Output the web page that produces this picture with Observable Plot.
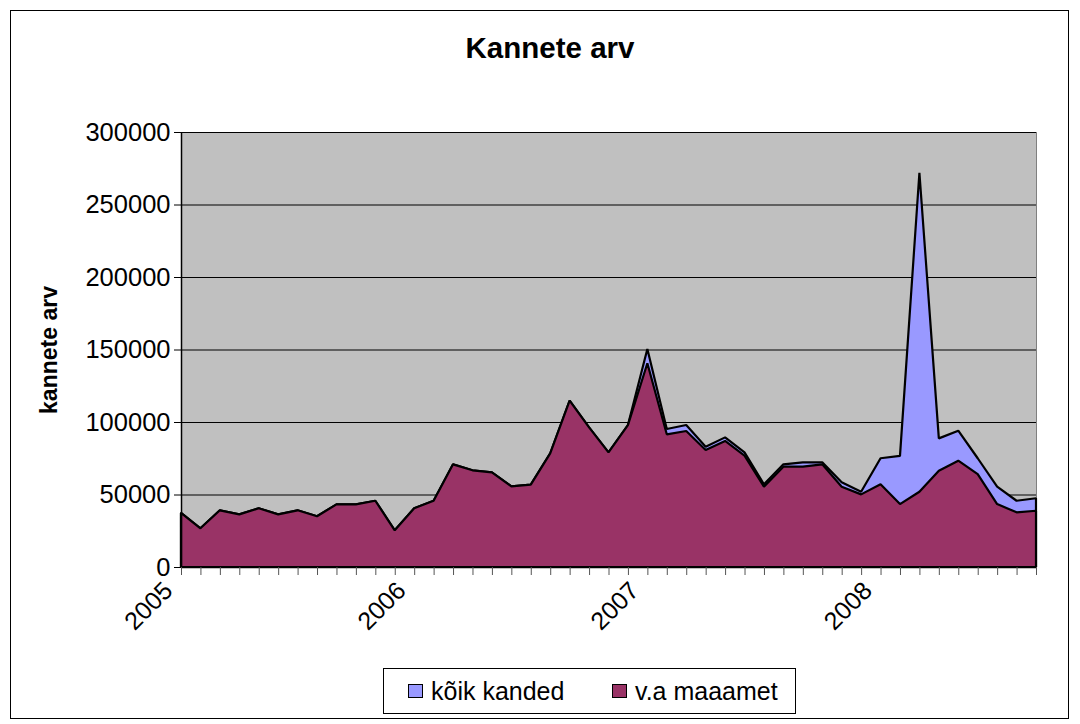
<!DOCTYPE html>
<html>
<head>
<meta charset="utf-8">
<script src="https://cdn.jsdelivr.net/npm/d3@7"></script>
<script src="https://cdn.jsdelivr.net/npm/@observablehq/plot@0.6"></script>
<style>
  body { margin: 0; background: #fff; font-family: "Liberation Sans", Arial, sans-serif; }
  #wrap { position: relative; width: 1080px; height: 724px; overflow: hidden; background: #fff; }
  #border { position: absolute; left: 10px; top: 10px; width: 1059px; height: 709px; border: 1px solid #000; box-sizing: border-box; pointer-events: none; }
  #title { height: 100px; box-sizing: border-box; padding-top: 31px; padding-left: 20px; text-align: center; font-size: 29.5px; line-height: 34px; font-weight: bold; color: #000; }
  #chart svg { display: block; }
  #legendRow { height: 64px; position: relative; }
  #legend { position: absolute; left: 383px; top: 8px; width: 413px; height: 46px; border: 1px solid #000; box-sizing: border-box; font-size: 25px; color: #000; }
  .item { position: absolute; top: 0; height: 44px; display: flex; align-items: center; }
  .sw { width: 15px; height: 14px; border: 1px solid #000; box-sizing: border-box; margin-right: 8px; }
</style>
</head>
<body>
<div id="wrap">
  <div id="title"></div>
  <div id="chart"></div>
  <div id="legendRow"><div id="legend"></div></div>
  <div id="border"></div>
</div>
<script>
// Categories: months Jan 2005 – Sep 2008
const months = [
  "2005-01","2005-02","2005-03","2005-04","2005-05","2005-06","2005-07","2005-08","2005-09","2005-10","2005-11","2005-12",
  "2006-01","2006-02","2006-03","2006-04","2006-05","2006-06","2006-07","2006-08","2006-09","2006-10","2006-11","2006-12",
  "2007-01","2007-02","2007-03","2007-04","2007-05","2007-06","2007-07","2007-08","2007-09","2007-10","2007-11","2007-12",
  "2008-01","2008-02","2008-03","2008-04","2008-05","2008-06","2008-07","2008-08","2008-09"
];
// Series: "kõik kanded" (all entries)
const koikKanded = [
  37400, 26700, 39100, 36300, 40500, 36300, 39100, 35000, 43200, 43200, 45700, 25300,
  40500, 45700, 70800, 66700, 65300, 55600, 56800, 78400, 114700, 96300, 79100, 97900,
  150300, 95200, 97900, 83000, 89400, 79100, 57000, 70800, 72200, 72200, 58400, 51900,
  75000, 76600, 271900, 88700, 94000, 75000, 55400, 45700, 47400
];
// Series: "v.a maaamet" (excluding Land Board)
const vaMaaamet = [
  37400, 26700, 39100, 36300, 40500, 36300, 39100, 35000, 43200, 43200, 45700, 25300,
  40500, 45700, 70800, 66700, 65300, 55600, 56800, 78400, 114700, 96300, 79100, 97900,
  140500, 91500, 93800, 80700, 86900, 76800, 55400, 69200, 69200, 70800, 55400, 50100,
  57000, 43400, 51900, 66400, 73300, 64100, 43400, 37700, 38800
];
const seriesNames = ["kõik kanded", "v.a maaamet"];
const seriesColors = ["#9999FF", "#993366"];
const yTicks = [0, 50000, 100000, 150000, 200000, 250000, 300000];
const yearLabels = ["2005", "2006", "2007", "2008"];
const titleText = "Kannete arv";
const yAxisTitle = "kannete arv";

const data = months.map((m, i) => ({i, month: m, koik: koikKanded[i], va: vaMaaamet[i]}));
const monthIdx = months.map((m, i) => i);
const yearIdx = months.map((m, i) => i).filter(i => months[i].endsWith("-01"));

document.getElementById("title").textContent = titleText;

const chart = Plot.plot({
  width: 1080,
  height: 560,
  marginLeft: 181,
  marginRight: 44,
  marginTop: 32,
  marginBottom: 93,
  x: {type: "linear", domain: [0, months.length - 1]},
  y: {domain: [0, 300000]},
  style: {fontFamily: "'Liberation Sans', Arial, sans-serif", fontSize: "25px", color: "#000", background: "transparent", overflow: "visible"},
  marks: [
    Plot.frame({fill: "#C0C0C0", stroke: "#808080"}),
    Plot.gridY(yTicks, {stroke: "#000", strokeOpacity: 1, strokeWidth: 1}),
    Plot.areaY(data, {x: "i", y: "koik", fill: seriesColors[0], stroke: "#000", strokeWidth: 2.2, strokeLinejoin: "miter"}),
    Plot.areaY(data, {x: "i", y: "va", fill: seriesColors[1], stroke: "#000", strokeWidth: 2.2, strokeLinejoin: "miter"}),
    Plot.ruleX([0], {stroke: "#000", strokeWidth: 1.5}),
    Plot.ruleY([0], {stroke: "#000", strokeWidth: 1.5}),
    Plot.axisY(yTicks, {tickSize: 7, tickPadding: 4, tickFormat: d => String(d), fontSize: 25.5, label: null, stroke: "#000"}),
    Plot.axisX(monthIdx, {tickSize: 8, tickFormat: () => "", label: null, stroke: "#555"}),
    Plot.text(yearIdx, {x: d => d, y: 0, text: (d, k) => yearLabels[k], rotate: -45, textAnchor: "end", lineAnchor: "top", dx: -20, dy: 12, fontSize: 25, fill: "#000"}),
    Plot.text([yAxisTitle], {frameAnchor: "left", text: d => d, rotate: -90, textAnchor: "middle", dx: -132, fontSize: 23, fontWeight: "bold", fill: "#000"})
  ]
});
document.getElementById("chart").appendChild(chart);

const legend = document.getElementById("legend");
const lx = [24, 228];
seriesNames.forEach((name, k) => {
  const it = document.createElement("div");
  it.className = "item";
  it.style.left = lx[k] + "px";
  const sw = document.createElement("div");
  sw.className = "sw";
  sw.style.background = seriesColors[k];
  const tx = document.createElement("span");
  tx.textContent = name;
  it.appendChild(sw);
  it.appendChild(tx);
  legend.appendChild(it);
});
</script>
</body>
</html>
